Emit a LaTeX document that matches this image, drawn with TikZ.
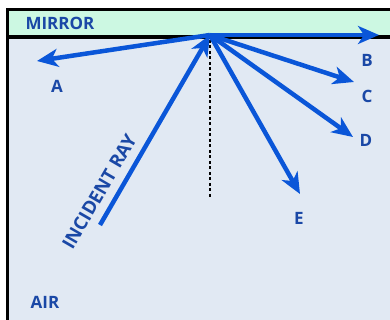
\documentclass[tikz,border=0pt]{standalone}
\usepackage{fontspec}
\setmainfont{Open Sans}
\usepackage{xcolor}
\usetikzlibrary{arrows.meta,positioning}

\definecolor{mirrorgreen}{HTML}{CCF8E2}
\definecolor{airblue}{HTML}{E1E9F3}
\definecolor{raycol}{HTML}{0A56D8}
\definecolor{labelcol}{HTML}{1A48A6}

\begin{document}
\begin{tikzpicture}[
    x=1pt, y=-1pt,
    every node/.style={text=labelcol, font=\fontsize{17}{19}\selectfont\bfseries},
    ray/.style={draw=raycol, line width=4.5pt,
        -{Stealth[length=21pt, width=18pt, inset=6pt]}},
    normal/.style={draw=black, line width=1.5pt, dash pattern=on 3pt off 2.5pt}
]
\useasboundingbox (0,0) rectangle (390,320);

% background regions
\fill[airblue] (7,37) rectangle (395,330);
\fill[mirrorgreen] (7,10) rectangle (395,37);
\draw[black, line width=3pt] (395,10) -- (7,10) -- (7,330);
\draw[black, line width=3.5pt] (7,37) -- (395,37);

% point of incidence and ray ends
\coordinate (o) at (210,35);
\coordinate (inc) at (100,225);
\coordinate (foot) at (210,198);
\coordinate (endA) at (37,61);
\coordinate (endB) at (379,35);
\coordinate (endC) at (354,82);
\coordinate (endD) at (353,137);
\coordinate (endE) at (300,194);

\draw[normal] (210,40) -- (foot);

\draw[ray] (inc) -- node[sloped, above=5pt, pos=0.13,
    font=\fontsize{18.5}{20}\selectfont\bfseries] (inclabel) {INCIDENT RAY} (o);
\draw[ray] (o) -- (endA);
\draw[ray] (o) -- (endB);
\draw[ray] (o) -- (endC);
\draw[ray] (o) -- (endD);
\draw[ray] (o) -- (endE);

\node (mirror) at (60,23) {MIRROR};
\node (air) at (45,302) {AIR};
\node (labA) at (57,86) {A};
\node (labB) at (367,60) {B};
\node (labC) at (367,96) {C};
\node (labD) at (366,140) {D};
\node (labE) at (299,218) {E};

\end{tikzpicture}
\end{document}
